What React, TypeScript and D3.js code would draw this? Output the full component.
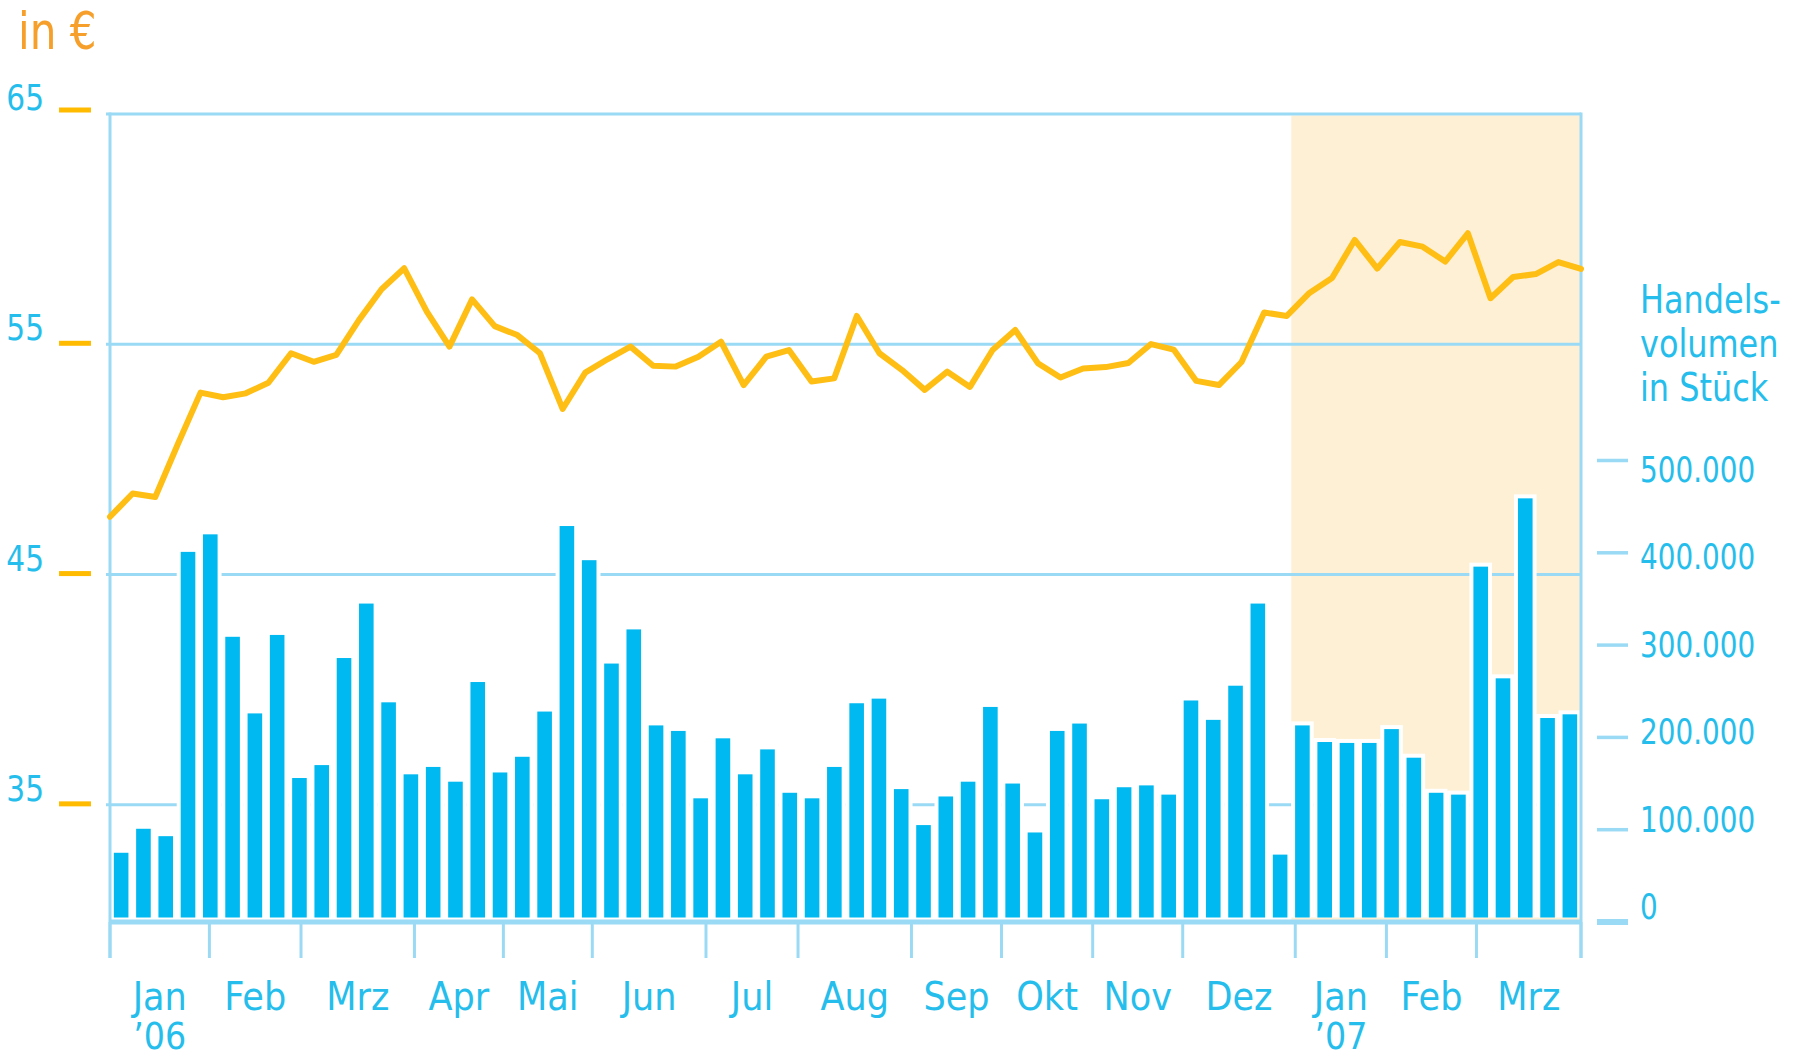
import React from 'react';
import * as d3 from 'd3';

// ---------- data ----------
const volumes = [
  75000, 101000, 93000, 401000, 420000, 309000, 226000, 311000, 156000, 170000,
  286000, 345000, 238000, 160000, 168000, 152000, 260000, 162000, 179000, 228000,
  429000, 392000, 280000, 317000, 213000, 207000, 134000, 199000, 160000, 187000,
  140000, 134000, 168000, 237000, 242000, 144000, 105000, 136000, 152000, 233000,
  150000, 97000, 207000, 215000, 133000, 146000, 148000, 138000, 240000, 219000,
  256000, 345000, 73000, 213000, 195000, 194000, 194000, 209000, 178000, 140000,
  138000, 385000, 264000, 459000, 221000, 225000,
];

const prices = [
  47.51, 48.52, 48.37, 50.67, 52.9, 52.7, 52.87, 53.33, 54.61, 54.24,
  54.54, 56.05, 57.39, 58.3, 56.42, 54.9, 56.95, 55.79, 55.4, 54.61,
  52.19, 53.77, 54.36, 54.9, 54.07, 54.03, 54.46, 55.11, 53.23, 54.46,
  54.75, 53.38, 53.52, 56.23, 54.61, 53.88, 53.02, 53.81, 53.15, 54.75,
  55.62, 54.18, 53.56, 53.95, 54.01, 54.19, 55.01, 54.77, 53.41, 53.23,
  54.23, 56.38, 56.23, 57.23, 57.88, 59.53, 58.29, 59.44, 59.24, 58.59,
  59.82, 57.0, 57.92, 58.05, 58.57, 58.27,
];

const monthLabels = ['Jan', 'Feb', 'Mrz', 'Apr', 'Mai', 'Jun', 'Jul', 'Aug', 'Sep', 'Okt', 'Nov', 'Dez', 'Jan', 'Feb', 'Mrz'];
const yearLabels = ['\u201906', '', '', '', '', '', '', '', '', '', '', '', '\u201907', '', ''];
// month boundaries, in weeks from the start
const monthTickWeeks = [0, 4.46, 8.57, 13.66, 17.65, 21.64, 26.74, 30.87, 35.96, 40.0, 44.09, 48.13, 53.18, 57.27, 61.31, 66];
const priceTicks = [35, 45, 55, 65];
const volumeTicks = [0, 100000, 200000, 300000, 400000, 500000];
const highlightWeeks = [53, 66];
const priceUnit = 'in €';
const volumeTitle = ['Handels-', 'volumen', 'in Stück'];

// ---------- style ----------
const W = 1799;
const H = 1058;
const FONT = '"DejaVu Sans Condensed", "DejaVu Sans", sans-serif';
const CYAN_TEXT = '#25BEEC';
const BAR = '#00B9F0';
const GRID = '#9BDAF5';
const ORANGE_TICK = '#FFBB00';
const LINE = '#FFBE14';
const UNIT_ORANGE = '#F6A02B';
const HIGHLIGHT = '#FEF0D4';

const left = 110;
const right = 1581;
const axisY = 922;

const deFormat = d3.formatLocale({ decimal: ',', thousands: '.', grouping: [3], currency: ['', '€'] }).format(',');

function SText({ x, y, sx = 1, anchor = 'start', size, fill, children }: any) {
  return (
    <text
      transform={`translate(${x},${y}) scale(${sx},1)`}
      textAnchor={anchor}
      fontFamily={FONT}
      fontSize={size}
      fill={fill}
    >
      {children}
    </text>
  );
}

export default function App() {
  const weekScale = d3.scaleLinear().domain([0, 66]).range([left, right]);
  const xBand = d3
    .scaleBand<number>()
    .domain(d3.range(volumes.length))
    .range([left, right])
    .paddingInner(0.345)
    .paddingOuter(0.1725);
  const xLine = d3.scaleLinear().domain([0, prices.length - 1]).range([left, right]);
  const yPrice = d3.scaleLinear().domain([30, 65]).range([920, 114]);
  const yVol = d3.scaleLinear().domain([0, 500000]).range([axisY, 460.5]);
  // right-hand labels sit on a slightly tighter spacing than their ticks
  const yVolLabel = d3.scaleLinear().domain([0, 500000]).range([906.5, 469.5]);

  const linePath = d3
    .line<number>()
    .x((_, i) => xLine(i))
    .y((d) => yPrice(d))(prices);

  const halo = 4;
  const barBottom = axisY - 4.5;
  const top = yPrice(65);

  return (
    <svg width={W} height={H} style={{ position: 'absolute', left: 0, top: 0, background: '#fff' }}>
      {/* highlight region */}
      <rect
        x={weekScale(highlightWeeks[0])}
        y={top + 1.5}
        width={weekScale(highlightWeeks[1]) - weekScale(highlightWeeks[0])}
        height={axisY - top - 1.5}
        fill={HIGHLIGHT}
      />
      {/* gridlines */}
      {priceTicks.map((t) => (
        <line key={'g' + t} x1={left - 4} x2={right} y1={yPrice(t)} y2={yPrice(t)} stroke={GRID} strokeWidth={3} />
      ))}
      {/* bar halos */}
      {volumes.map((v, i) => (
        <rect
          key={'h' + i}
          x={(xBand(i) as number) - halo}
          y={yVol(v) - halo}
          width={xBand.bandwidth() + 2 * halo}
          height={barBottom - yVol(v) + halo}
          fill="#fff"
        />
      ))}
      {/* bars */}
      {volumes.map((v, i) => (
        <rect key={'b' + i} x={xBand(i) as number} y={yVol(v)} width={xBand.bandwidth()} height={barBottom - yVol(v)} fill={BAR} />
      ))}
      {/* frame verticals */}
      <line x1={left} x2={left} y1={top - 1.5} y2={958} stroke={GRID} strokeWidth={3} />
      <line x1={right} x2={right} y1={top - 1.5} y2={958} stroke={GRID} strokeWidth={3} />
      {/* bottom axis */}
      <line x1={left} x2={right} y1={axisY} y2={axisY} stroke={GRID} strokeWidth={5} />
      {monthTickWeeks.map((w, i) => (
        <line key={'mt' + i} x1={weekScale(w)} x2={weekScale(w)} y1={axisY} y2={958} stroke={GRID} strokeWidth={3} />
      ))}
      {/* price line */}
      <path d={linePath || ''} fill="none" stroke={LINE} strokeWidth={6} strokeLinejoin="round" strokeLinecap="round" />

      {/* left axis */}
      <SText x={18} y={49} sx={0.9} size={52} fill={UNIT_ORANGE}>
        {priceUnit}
      </SText>
      {priceTicks.map((t) => (
        <g key={'pl' + t}>
          <line
            x1={59}
            x2={91}
            y1={yPrice(t) - (t === 65 ? 4 : 1)}
            y2={yPrice(t) - (t === 65 ? 4 : 1)}
            stroke={ORANGE_TICK}
            strokeWidth={5}
          />
          <SText x={44} y={yPrice(t) - 4} sx={0.94} anchor="end" size={35} fill={CYAN_TEXT}>
            {t}
          </SText>
        </g>
      ))}

      {/* right axis */}
      {volumeTicks.map((t) => (
        <g key={'vl' + t}>
          <line x1={1597} x2={1628} y1={yVol(t)} y2={yVol(t)} stroke={GRID} strokeWidth={t === 0 ? 6 : 3.5} />
          <SText x={1640} y={yVolLabel(t) + 12.5} sx={0.86} size={36} fill={CYAN_TEXT}>
            {deFormat(t)}
          </SText>
        </g>
      ))}
      {volumeTitle.map((s, i) => (
        <SText key={'vt' + i} x={1640} y={313 + i * 44} sx={0.91} size={39} fill={CYAN_TEXT}>
          {s}
        </SText>
      ))}

      {/* month labels */}
      {monthLabels.map((m, i) => {
        const cx = (weekScale(monthTickWeeks[i]) + weekScale(monthTickWeeks[i + 1])) / 2;
        return (
          <g key={'ml' + i}>
            <SText x={cx} y={1010} anchor="middle" size={39} fill={CYAN_TEXT}>
              {m}
            </SText>
            {yearLabels[i] && (
              <SText x={cx} y={1049} anchor="middle" size={37} fill={CYAN_TEXT}>
                {yearLabels[i]}
              </SText>
            )}
          </g>
        );
      })}
    </svg>
  );
}
